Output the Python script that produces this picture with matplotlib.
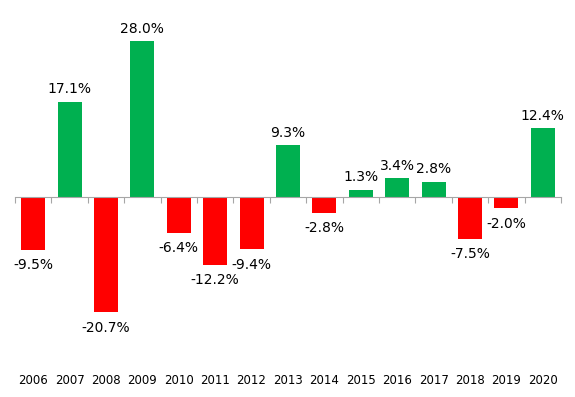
import matplotlib
matplotlib.use("Agg")
import matplotlib.pyplot as plt
import matplotlib.transforms as mtransforms

years = ["2006", "2007", "2008", "2009", "2010", "2011", "2012", "2013",
         "2014", "2015", "2016", "2017", "2018", "2019", "2020"]
values = [-9.5, 17.1, -20.7, 28.0, -6.4, -12.2, -9.4, 9.3,
          -2.8, 1.3, 3.4, 2.8, -7.5, -2.0, 12.4]

green = "#00B050"
red = "#FF0000"
colors = [green if v >= 0 else red for v in values]

fig = plt.figure(figsize=(5.75, 3.97), dpi=100)
ax = fig.add_axes([0.026, 0.083, 0.9496, 0.841])

x = list(range(len(years)))
ax.bar(x, values, width=0.66, color=colors, zorder=2)

ax.set_xlim(-0.5, len(years) - 0.5)
ax.set_ylim(-30, 30)

for s in ["top", "right", "left"]:
    ax.spines[s].set_visible(False)
ax.spines["bottom"].set_position(("data", 0))
ax.spines["bottom"].set_color("#A6A6A6")
ax.spines["bottom"].set_zorder(3)
ax.set_yticks([])
ax.set_xticks([i - 0.5 for i in range(len(years) + 1)])
ax.set_xticklabels([])
ax.tick_params(axis="x", direction="out", length=4, color="#A6A6A6")

for i, v in enumerate(values):
    if v >= 0:
        ax.annotate(f"{v:.1f}%", (i, v), xytext=(0, 4), textcoords="offset points",
                    ha="center", va="bottom", fontsize=10, color="black")
    else:
        ax.annotate(f"{v:.1f}%", (i, v), xytext=(0, -6), textcoords="offset points",
                    ha="center", va="top", fontsize=10, color="black")

trans = mtransforms.blended_transform_factory(ax.transData, ax.transAxes)
for i, yr in enumerate(years):
    ax.text(i, -0.03, yr, transform=trans, ha="center", va="top", fontsize=8.5)

fig.savefig("out.png", dpi=100)
